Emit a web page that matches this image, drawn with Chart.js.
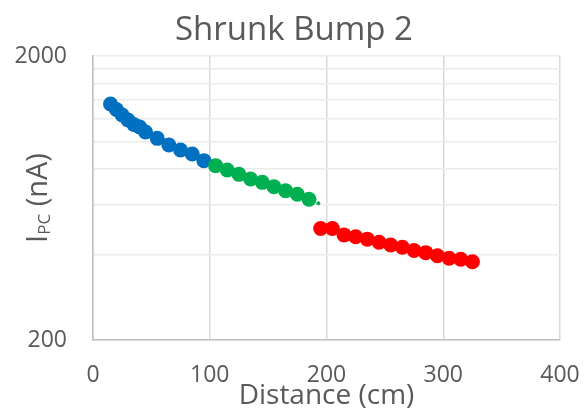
<!DOCTYPE html>
<html>
<head>
<meta charset="utf-8">
<script src="https://cdn.jsdelivr.net/npm/chart.js@4/dist/chart.umd.min.js"></script>
<style>
  html, body { margin: 0; padding: 0; background: #ffffff; }
  #wrap { width: 588px; height: 410px; position: relative; }
</style>
</head>
<body>
<div id="wrap"><canvas id="c" width="588" height="410"></canvas></div>
<script>
// ---- Data ----
const chartTitle = "Shrunk Bump 2";
const xTitle = "Distance (cm)";
const yTitleMain = "I";
const yTitleSub = "PC";
const yTitleRest = " (nA)";

const blueX = [15, 20, 25, 30, 35, 40, 45, 55, 65, 75, 85, 95];
const blueY = [1355, 1296, 1240, 1190, 1148, 1125, 1080, 1026, 972, 933, 904, 856];

const greenX = [105, 115, 125, 135, 145, 155, 165, 175, 185, 193];
const greenY = [822, 794, 766, 738, 718, 693, 671, 652, 626, 606];

const redX = [195, 205, 215, 225, 235, 245, 255, 265, 275, 285, 295, 305, 315, 325];
const redY = [494, 494, 469, 462, 453, 442, 432, 424, 413, 406, 396, 388, 385, 377];

const xTicks = [0, 100, 200, 300, 400];
const yTicks = [200, 400, 600, 800, 1000, 1200, 1400, 1600, 1800, 2000];
const yLabelled = [200, 2000];

// ---- Build ----
const toPts = (xs, ys) => xs.map((x, i) => ({ x: x, y: ys[i] }));
const FONT = "'Open Sans', 'DejaVu Sans', sans-serif";
const TXT = '#595959';

const greenRadius = greenX.map((_, i) => i === greenX.length - 1 ? 2 : 7.5);

const yTitlePlugin = {
  id: 'yTitle',
  afterDraw(chart) {
    const ctx = chart.ctx;
    const area = chart.chartArea;
    const mainFont = "29px " + FONT;
    const subFont = "17px " + FONT;
    ctx.save();
    ctx.font = mainFont;
    const wMain = ctx.measureText(yTitleMain).width;
    const wRest = ctx.measureText(yTitleRest).width;
    ctx.font = subFont;
    const wSub = ctx.measureText(yTitleSub).width;
    const total = wMain + wSub + wRest;
    const cy = (area.top + area.bottom) / 2;
    ctx.translate(46.5, cy);
    ctx.rotate(-Math.PI / 2);
    ctx.fillStyle = TXT;
    ctx.textBaseline = 'alphabetic';
    ctx.textAlign = 'left';
    let sx = -total / 2;
    ctx.font = mainFont;
    ctx.fillText(yTitleMain, sx, 0);
    sx += wMain;
    ctx.font = subFont;
    ctx.fillText(yTitleSub, sx, 3);
    sx += wSub;
    ctx.font = mainFont;
    ctx.fillText(yTitleRest, sx, 0);
    ctx.restore();
  }
};

new Chart(document.getElementById('c'), {
  type: 'scatter',
  data: {
    datasets: [
      {
        label: 'green',
        data: toPts(greenX, greenY),
        backgroundColor: '#00B050',
        borderWidth: 0,
        pointRadius: greenRadius,
        order: 1
      },
      {
        label: 'blue',
        data: toPts(blueX, blueY),
        backgroundColor: '#0070C0',
        borderWidth: 0,
        pointRadius: 7.5,
        order: 2
      },
      {
        label: 'red',
        data: toPts(redX, redY),
        backgroundColor: '#FF0000',
        borderWidth: 0,
        pointRadius: 7.5,
        order: 3
      }
    ]
  },
  options: {
    responsive: false,
    animation: false,
    events: [],
    layout: { padding: { top: 0, right: 0, bottom: 0, left: 0 } },
    plugins: {
      legend: { display: false },
      tooltip: { enabled: false },
      title: {
        display: true,
        text: chartTitle,
        color: TXT,
        font: { family: FONT, size: 33, weight: 'normal' },
        padding: { top: 11, bottom: 5.4 }
      }
    },
    scales: {
      x: {
        type: 'linear',
        min: 0,
        max: 400,
        afterBuildTicks: (axis) => { axis.ticks = xTicks.map(v => ({ value: v })); },
        afterFit: (axis) => { axis.height = 70; axis.paddingLeft = 0; axis.paddingRight = 28; },
        ticks: {
          color: TXT,
          font: { family: FONT, size: 23 },
          padding: 22,
          maxRotation: 0
        },
        grid: { color: '#d9d9d9', lineWidth: 1.5, drawTicks: false },
        border: { color: '#bfbfbf', width: 1.5 },
        title: {
          display: true,
          text: xTitle,
          color: TXT,
          font: { family: FONT, size: 28 },
          padding: { top: 0, bottom: -3 }
        }
      },
      y: {
        type: 'logarithmic',
        min: 200,
        max: 2000,
        afterBuildTicks: (axis) => { axis.ticks = yTicks.map(v => ({ value: v })); },
        afterFit: (axis) => { axis.width = 93; axis.paddingTop = 0; axis.paddingBottom = 0; },
        ticks: {
          color: TXT,
          font: { family: FONT, size: 23 },
          padding: 26,
          autoSkip: false,
          callback: (v) => yLabelled.includes(v) ? String(v) : ''
        },
        grid: { color: '#ececec', lineWidth: 1.5, drawTicks: false },
        border: { color: '#bfbfbf', width: 1.5 }
      }
    }
  },
  plugins: [yTitlePlugin]
});
</script>
</body>
</html>
